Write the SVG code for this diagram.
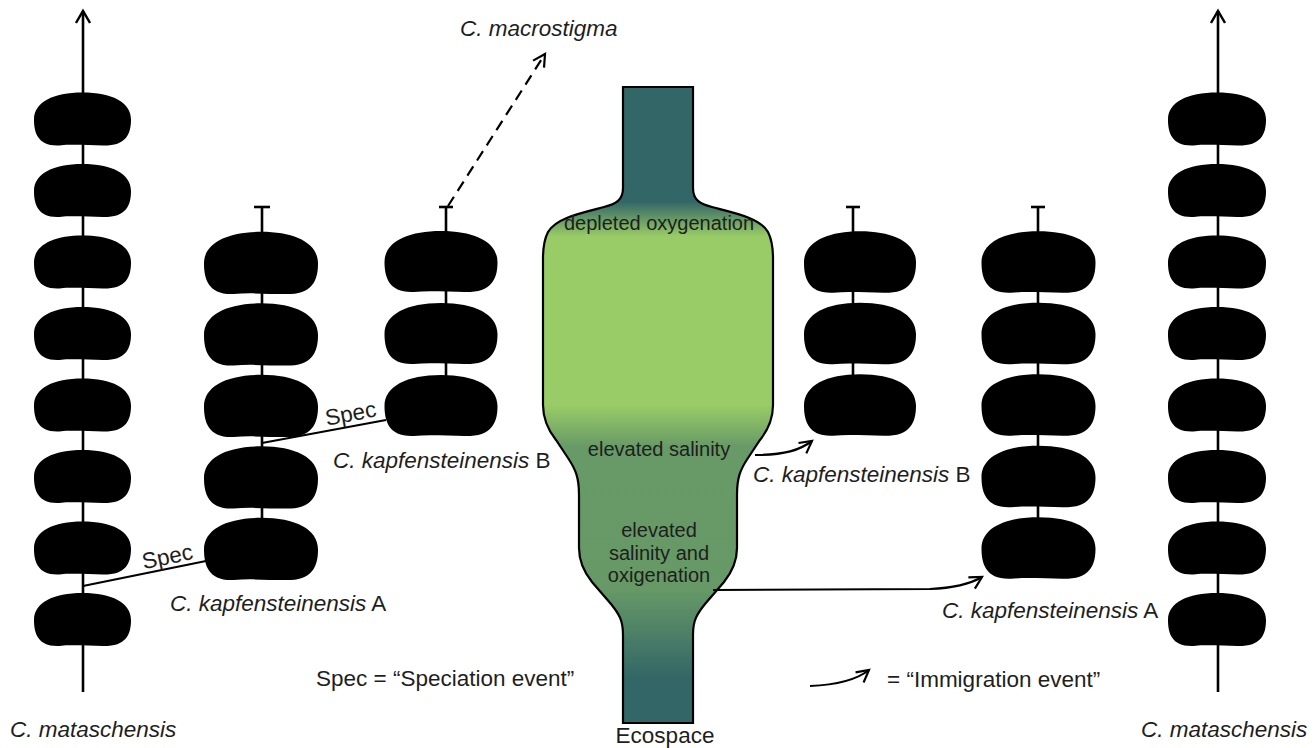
<svg xmlns="http://www.w3.org/2000/svg" xmlns:xlink="http://www.w3.org/1999/xlink" width="1316" height="748" viewBox="0 0 1316 748">
<style>
.lab{font-family:"Liberation Sans",Arial,sans-serif;font-size:22.5px;fill:#1e1e1e}
.it{font-style:italic}
.eco{font-family:"Liberation Sans",Arial,sans-serif;font-size:20px;fill:#1e1e1e;text-anchor:middle}
.stem{stroke:#000;stroke-width:2.6;fill:none}
.con{stroke:#000;stroke-width:2.2;fill:none}
.blob{fill:#000}
</style>
<defs>
<path id="blob" d="M -50,0 C -50,-18 -30,-28 0,-28 C 30,-28 50,-18 50,0 C 50,12 47,26 26,27 C 12,27.5 -8,25.5 -24,27 C -46,28 -50,14 -50,0 Z"/>
<marker id="up" viewBox="0 0 16 16" refX="13" refY="8" markerWidth="16" markerHeight="16" markerUnits="userSpaceOnUse" orient="auto">
<path d="M1,1 L13,8 L1,15" fill="none" stroke="#000" stroke-width="2.4"/>
</marker>
<marker id="arr" viewBox="0 0 16 16" refX="13" refY="8" markerWidth="16" markerHeight="16" markerUnits="userSpaceOnUse" orient="auto">
<path d="M1,1.5 L13,8 L1,14.5" fill="none" stroke="#000" stroke-width="2.2"/>
</marker>
<linearGradient id="ecoGrad" gradientUnits="userSpaceOnUse" x1="0" y1="87" x2="0" y2="723">
<stop offset="0" stop-color="#336666"/>
<stop offset="0.18" stop-color="#336666"/>
<stop offset="0.235" stop-color="#99cc66"/>
<stop offset="0.5" stop-color="#99cc66"/>
<stop offset="0.565" stop-color="#689a67"/>
<stop offset="0.79" stop-color="#669966"/>
<stop offset="0.93" stop-color="#336666"/>
<stop offset="1" stop-color="#336666"/>
</linearGradient>
</defs>

<g id="ecospace">
<path d="M 623,87 L 693,87 L 693,188 C 693,200 700,204 712,207 C 735,213 760,218 768,232 C 772,240 773,248 773,258 L 773,405 C 773,420 768,430 760,440 L 748,458 C 740,470 737,478 737,495 L 737,548 C 737,562 732,572 724,582 L 705,604 C 697,614 693,620 693,635 L 693,723 L 623,723 L 623,635 C 623,620 619,614 611,604 L 592,582 C 584,572 579,562 579,548 L 579,495 C 579,478 576,470 568,458 L 556,440 C 548,430 543,420 543,405 L 543,258 C 543,248 544,240 548,232 C 556,218 581,213 604,207 C 616,204 623,200 623,188 Z" fill="url(#ecoGrad)" stroke="#000" stroke-width="2.2"/>
<text class="eco" x="659" y="230">depleted oxygenation</text>
<text class="eco" x="659" y="456">elevated salinity</text>
<text class="eco" x="659" y="537">elevated</text>
<text class="eco" x="659" y="560">salinity and</text>
<text class="eco" x="659" y="582">oxigenation</text>
<text class="lab" x="665" y="743" text-anchor="middle">Ecospace</text>
</g>

<g id="mataschensis-left">
<line class="stem" x1="83" y1="692" x2="83" y2="11" marker-end="url(#up)"/>
<use href="#blob" transform="translate(82.5,119.5) scale(0.97,0.96)"/>
<use href="#blob" transform="translate(82.5,191) scale(0.97,0.96)"/>
<use href="#blob" transform="translate(82.5,262.5) scale(0.97,0.96)"/>
<use href="#blob" transform="translate(82.5,334) scale(0.97,0.96)"/>
<use href="#blob" transform="translate(82.5,405.5) scale(0.97,0.96)"/>
<use href="#blob" transform="translate(82.5,477) scale(0.97,0.96)"/>
<use href="#blob" transform="translate(82.5,548.5) scale(0.97,0.96)"/>
<use href="#blob" transform="translate(82.5,620) scale(0.97,0.96)"/>
<text class="lab it" x="10" y="737">C. mataschensis</text>
</g>

<g id="kapfA-left">
<line class="stem" x1="262" y1="207" x2="262" y2="549"/>
<line class="stem" x1="254" y1="207" x2="270" y2="207"/>
<use href="#blob" transform="translate(261,263.5) scale(1.14,1.13)"/>
<use href="#blob" transform="translate(261,335) scale(1.14,1.13)"/>
<use href="#blob" transform="translate(261,406.5) scale(1.14,1.13)"/>
<use href="#blob" transform="translate(261,478) scale(1.14,1.13)"/>
<use href="#blob" transform="translate(261,549.5) scale(1.14,1.13)"/>
<text class="lab" x="170" y="611"><tspan class="it">C. kapfensteinensis</tspan> A</text>
</g>

<g id="kapfB-left">
<line class="stem" x1="446" y1="207" x2="446" y2="406"/>
<line class="stem" x1="439" y1="207" x2="453" y2="207"/>
<use href="#blob" transform="translate(441,262) scale(1.13,1.11)"/>
<use href="#blob" transform="translate(441,334) scale(1.13,1.11)"/>
<use href="#blob" transform="translate(441,406) scale(1.13,1.11)"/>
<text class="lab" x="333" y="468"><tspan class="it">C. kapfensteinensis</tspan> B</text>
</g>

<g id="macrostigma">
<text class="lab it" x="460" y="36">C. macrostigma</text>
</g>

<g id="kapfB-right">
<line class="stem" x1="853" y1="207" x2="853" y2="405"/>
<line class="stem" x1="846" y1="207" x2="860" y2="207"/>
<use href="#blob" transform="translate(860,262.5) scale(1.12,1.12)"/>
<use href="#blob" transform="translate(860,334) scale(1.12,1.12)"/>
<use href="#blob" transform="translate(860,405.5) scale(1.12,1.12)"/>
<text class="lab" x="753" y="482"><tspan class="it">C. kapfensteinensis</tspan> B</text>
</g>

<g id="kapfA-right">
<line class="stem" x1="1038" y1="207" x2="1038" y2="549"/>
<line class="stem" x1="1031" y1="207" x2="1045" y2="207"/>
<use href="#blob" transform="translate(1038.5,262.5) scale(1.14,1.12)"/>
<use href="#blob" transform="translate(1038.5,334) scale(1.14,1.12)"/>
<use href="#blob" transform="translate(1038.5,405.5) scale(1.14,1.12)"/>
<use href="#blob" transform="translate(1038.5,477) scale(1.14,1.12)"/>
<use href="#blob" transform="translate(1038.5,548.5) scale(1.14,1.12)"/>
<text class="lab" x="942" y="618"><tspan class="it">C. kapfensteinensis</tspan> A</text>
</g>

<g id="mataschensis-right">
<line class="stem" x1="1218" y1="692" x2="1218" y2="11" marker-end="url(#up)"/>
<use href="#blob" transform="translate(1217,119.5) scale(0.98,0.96)"/>
<use href="#blob" transform="translate(1217,191) scale(0.98,0.96)"/>
<use href="#blob" transform="translate(1217,262.5) scale(0.98,0.96)"/>
<use href="#blob" transform="translate(1217,334) scale(0.98,0.96)"/>
<use href="#blob" transform="translate(1217,405.5) scale(0.98,0.96)"/>
<use href="#blob" transform="translate(1217,477) scale(0.98,0.96)"/>
<use href="#blob" transform="translate(1217,548.5) scale(0.98,0.96)"/>
<use href="#blob" transform="translate(1217,620) scale(0.98,0.96)"/>
<text class="lab it" x="1141" y="737">C. mataschensis</text>
</g>

<g id="connectors">
<line class="con" x1="262" y1="443" x2="386" y2="420"/>
<text class="lab" x="352" y="421" text-anchor="middle" transform="rotate(-10.6 352 421)">Spec</text>
<line class="con" x1="83" y1="586" x2="206" y2="561"/>
<text class="lab" x="169" y="564" text-anchor="middle" transform="rotate(-11.6 169 564)">Spec</text>
<line class="con" x1="448" y1="206" x2="545" y2="54" stroke-width="2.5" stroke-dasharray="11,7" marker-end="url(#arr)"/>
<path class="con" d="M755,455 C785,455 800,450 812,441" marker-end="url(#arr)"/>
<path class="con" d="M713,590 L930,589 C955,588 970,584 982,577" marker-end="url(#arr)"/>
</g>

<g id="legend">
<text class="lab" x="316" y="686">Spec = “Speciation event”</text>
<path class="con" d="M810,686 C835,685 855,681 869,670" marker-end="url(#arr)"/>
<text class="lab" x="887" y="687">= “Immigration event”</text>
</g>
</svg>
